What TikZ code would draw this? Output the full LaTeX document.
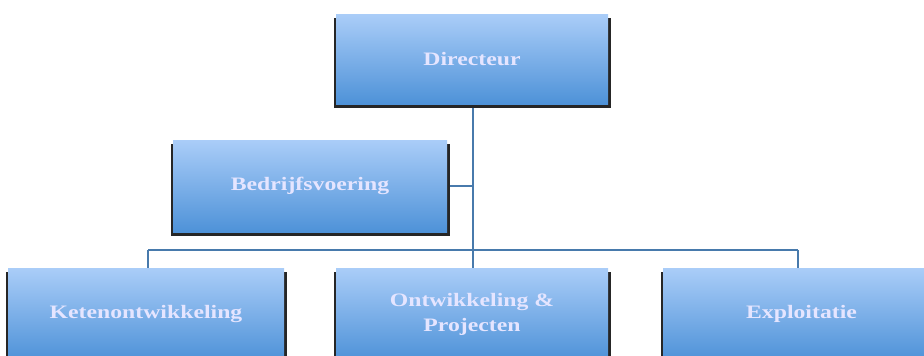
\documentclass[tikz,border=0pt]{standalone}
\usepackage{fontspec}
\setmainfont{Liberation Serif}[FakeStretch=1.25]
\usetikzlibrary{positioning}
\definecolor{boxtop}{RGB}{170,205,248}
\definecolor{boxbot}{RGB}{78,146,216}
\definecolor{linecol}{RGB}{72,122,172}
\tikzset{
  orgbox/.style={rectangle, minimum width=274pt, minimum height=90pt,
    top color=boxtop, bottom color=boxbot, inner sep=0pt,
    font=\bfseries\fontsize{19}{25}\selectfont, text=white!90!blue, align=center},
  conn/.style={draw=linecol, line width=2.6pt},
}
\begin{document}
\begin{tikzpicture}[x=1pt,y=-1pt]
\useasboundingbox (0,0) rectangle (924,356);
% connectors
\coordinate (bar) at (473,250);
\coordinate (barl) at (148,250);
\coordinate (barr) at (798,250);
\coordinate (jb) at (473,186);
\draw[conn] (473,104) -- (bar);
\draw[conn] (barl) -- (barr);
\draw[conn] (447,186) -- (jb);
\draw[conn] (barl) -- (148,268);
\draw[conn] (barr) -- (798,268);
\draw[conn] (bar) -- (473,268);
% shadow frames
\foreach \xa/\ya/\xb/\yb in {336/14/608/104, 173/140/447/232, 8/268/284/360, 336/268/608/360, 663/268/940/360}{
  \fill[black!85] (\xa-2.5,\ya+4) rectangle (\xb+2.5,\yb+3.5);
}
\node[orgbox, minimum width=272pt, minimum height=90pt] (dir) at (472,59) {Directeur};
\node[orgbox, minimum width=274pt, minimum height=92pt] (bed) at (310,186) {Bedrijfsvoering};
\node[orgbox, minimum width=276pt, minimum height=92pt] (ket) at (146,314) {Ketenontwikkeling};
\node[orgbox, minimum width=272pt, minimum height=92pt] (ont) at (472,314) {Ontwikkeling \&\\Projecten};
\node[orgbox, minimum width=277pt, minimum height=92pt] (exp) at (801.5,314) {Exploitatie};
\end{tikzpicture}
\end{document}
